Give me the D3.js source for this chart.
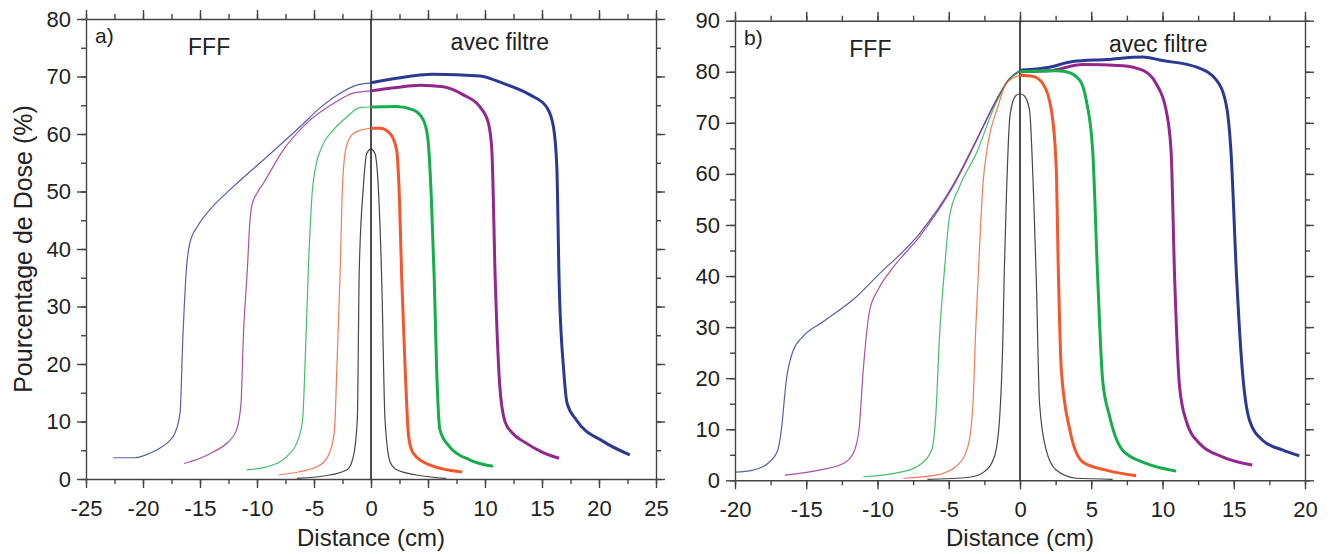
<!DOCTYPE html>
<html>
<head>
<meta charset="utf-8">
<script src="https://cdn.jsdelivr.net/npm/d3@7"></script>
<style>
  body { margin: 0; background: #fff; }
  svg text { font-family: "Liberation Sans", Arial, sans-serif; fill: #222; }
</style>
</head>
<body>
<svg width="1332" height="554"></svg>
<script>
// panel a) : profiles, x in cm, y in % dose
var aBlue = [[-22.6,3.7],[-20.7,3.7],[-19.5,4.4],[-18.5,5.4],[-17.7,6.6],[-17.2,8.0],[-16.75,11.5],[-16.5,24.7],[-16.2,36.3],[-15.9,41],[-15.2,44],[-14.4,46.2],[-12.1,50.8],[-9.15,56],[-6.2,61.3],[-4.5,64.5],[-2.7,67.1],[-1.25,68.5],[0,68.9],[2.25,69.7],[5.45,70.4],[9.56,70.1],[11.6,68.8],[13.95,66.8],[15.4,64.7],[16.0,61.3],[16.3,54.3],[16.5,34.6],[16.9,19],[17.2,13.2],[18.0,10.3],[20.4,6.5],[22.7,4.2]];
var aPurple = [[-16.4,2.7],[-15,3.6],[-13.8,4.75],[-12.6,6.3],[-11.8,8.5],[-11.4,13.2],[-11.2,24.7],[-10.85,36.3],[-10.65,44],[-10.45,47.6],[-10.0,49.7],[-9.45,51.4],[-7.7,57.2],[-5.64,61.9],[-3.3,65.3],[-1.55,67.1],[0,67.5],[2.25,68.1],[4.3,68.5],[6.35,68.2],[8.1,66.8],[9.56,64.7],[10.3,61.9],[10.6,57.2],[10.9,34.6],[11.3,16.1],[11.75,10.0],[12.4,8.0],[13.4,6.5],[15.1,4.6],[16.5,3.6]];
var aGreen = [[-10.9,1.6],[-9.15,2.1],[-7.4,3.9],[-6.4,6.8],[-6.0,10.3],[-5.8,19],[-5.5,36.3],[-5.15,50],[-4.9,53.8],[-4.3,57.8],[-3.3,60.7],[-2.1,63],[-1.0,64.6],[0,64.7],[2.25,64.8],[3.7,64.2],[4.6,62.4],[5.0,59],[5.3,48.5],[5.55,34.6],[5.76,19],[6.05,8.5],[6.9,5.6],[8.7,3.3],[10.7,2.2]];
var aOrange = [[-8.1,0.7],[-6.2,1.3],[-4.5,2.4],[-3.6,4.75],[-3.2,8.5],[-3.0,19],[-2.7,36.3],[-2.5,51],[-2.2,57.5],[-1.7,59.8],[-1.0,60.6],[0,61],[0.8,61],[1.67,60.1],[2.25,57.2],[2.5,48.5],[2.7,34.6],[3.0,19],[3.3,7.4],[3.7,4.5],[5.2,2.4],[8.0,1.2]];
var aBlack = [[-6.5,0.1],[-3.6,0.7],[-2.1,1.6],[-1.55,3.9],[-1.2,10.3],[-1.03,36.3],[-0.67,50.8],[-0.38,56.6],[0,57.5],[0.35,56.6],[0.64,50.8],[0.94,34.6],[1.23,10.3],[1.67,3.0],[2.25,1.6],[4.0,0.7],[6.6,0.1]];

// panel b)
var bBlue = [[-20,1.6],[-18.75,2.0],[-17.7,3.3],[-17.0,5.9],[-16.75,9.8],[-16.4,19.6],[-15.95,25.2],[-15.25,28.1],[-13.85,31.0],[-11.5,35.9],[-10.1,39.8],[-7.05,48.3],[-4.7,57.8],[-3.07,66.6],[-1.67,74.4],[-0.74,78.7],[0,80.3],[2.07,80.9],[3.7,82.0],[6.05,82.4],[8.6,82.9],[10.0,82.2],[12.4,80.9],[13.8,78.3],[14.5,73.1],[14.8,64.6],[15.2,39.8],[15.6,21.6],[16.1,11.8],[17.0,7.9],[18.45,5.9],[19.6,4.8]];
var bPurple = [[-16.5,1.0],[-14.1,2.0],[-12.4,3.3],[-11.7,5.3],[-11.3,9.8],[-11.0,21.6],[-10.55,33.3],[-9.98,37.2],[-9.04,41.2],[-7.05,47.7],[-4.7,57.5],[-3.1,66.2],[-1.7,74.2],[-0.74,78.6],[0,80],[2.07,80.2],[4.4,81.4],[7.2,81.2],[8.6,80.3],[9.55,77.7],[10.25,72.5],[10.6,64.6],[10.85,39.8],[11.2,18.3],[11.65,11.8],[12.6,7.2],[14.2,4.6],[16.3,3.0]];
var bGreen = [[-11.0,0.7],[-8.2,1.7],[-7.05,3.0],[-6.2,5.9],[-5.9,13.1],[-5.65,28.1],[-5.3,41.2],[-4.95,51.6],[-4.25,57.5],[-3.07,64.0],[-1.7,73.8],[-0.74,78.5],[0,80],[2.5,80.2],[3.25,80.0],[4.2,78.3],[4.65,74.4],[5.1,64.6],[5.45,39.8],[5.8,19.6],[6.3,12.4],[7.2,5.9],[8.85,3.3],[10.96,1.8]];
var bOrange = [[-8.2,0.4],[-5.9,1.0],[-4.5,2.7],[-3.66,6.6],[-3.3,15.1],[-3.1,30],[-2.85,45],[-2.6,58],[-2.3,65],[-1.56,73.1],[-0.97,77.7],[0,79.3],[0.9,79.1],[1.6,77.7],[2.2,72.5],[2.54,61.4],[2.7,39.8],[2.9,21.6],[3.5,9.8],[4.4,3.6],[6.05,2.0],[8.15,0.9]];
var bBlack = [[-6.5,0.2],[-3.55,0.6],[-2.5,1.7],[-1.8,4.6],[-1.44,11.8],[-1.2,28.1],[-1.1,41.2],[-0.95,56],[-0.7,71.5],[-0.3,75.3],[0,75.7],[0.3,75.3],[0.67,72.5],[0.95,56],[1.14,39.8],[1.37,15.1],[1.84,5.9],[2.54,2.0],[3.95,0.4],[6.5,0.2]];

var seriesColors = ["#2b3990", "#93278f", "#14ae4a", "#f7552a", "#333333"];

var svg = d3.select("svg");

function drawPanel(p) {
  var x = d3.scaleLinear().domain(p.xDomain).range([p.left, p.right]);
  var y = d3.scaleLinear().domain(p.yDomain).range([p.bottom, p.top]);
  var g = svg.append("g");

  var minorX = d3.range(p.xDomain[0], p.xDomain[1] + 0.01, p.xStep / 2);
  var minorY = d3.range(p.yDomain[0], p.yDomain[1] + 0.01, p.yStep / 2);
  var majorX = d3.range(p.xDomain[0], p.xDomain[1] + 0.01, p.xStep);
  var majorY = d3.range(p.yDomain[0], p.yDomain[1] + 0.01, p.yStep);

  function axisStyle(sel) {
    sel.selectAll("path, line").attr("stroke", "#444").attr("stroke-width", 1.4);
    sel.selectAll("text").attr("fill", "#222").attr("font-size", 22)
      .attr("font-family", "Liberation Sans, Arial, sans-serif");
  }

  // [axis, transform, minor ticks, major ticks, labelled?, padding]
  [[d3.axisBottom(x), "translate(0," + p.bottom + ")", minorX, majorX, true, 12],
   [d3.axisTop(x), "translate(0," + p.top + ")", minorX, majorX, false, 8],
   [d3.axisLeft(y), "translate(" + p.left + ",0)", minorY, majorY, true, 6],
   [d3.axisRight(y), "translate(" + p.right + ",0)", minorY, majorY, false, 8]
  ].forEach(function(a) {
    g.append("g").attr("transform", a[1])
      .call(a[0].tickValues(a[2]).tickSize(5).tickSizeOuter(0).tickFormat(""))
      .call(axisStyle);
    var ag = g.append("g").attr("transform", a[1])
      .call(a[0].tickValues(a[3]).tickSize(9).tickSizeOuter(0).tickPadding(a[5])
        .tickFormat(a[4] ? function(d) { return String(d); } : ""))
      .call(axisStyle);
    ag.select(".domain").remove();
  });

  // zero line
  g.append("line")
    .attr("x1", x(0)).attr("x2", x(0))
    .attr("y1", p.top).attr("y2", p.bottom)
    .attr("stroke", "#222").attr("stroke-width", 1.6);

  var line = d3.line()
    .x(function(d) { return x(d[0]); })
    .y(function(d) { return y(d[1]); })
    .curve(d3.curveMonotoneX);

  p.series.forEach(function(s, i) {
    var c = seriesColors[i];
    var isBlack = i === 4;
    g.append("path")
      .datum(s.filter(function(d) { return d[0] <= 0; }))
      .attr("d", line).attr("fill", "none")
      .attr("stroke", c).attr("stroke-opacity", isBlack ? 0.9 : 0.8)
      .attr("stroke-width", 1.2);
    g.append("path")
      .datum(s.filter(function(d) { return d[0] >= 0; }))
      .attr("d", line).attr("fill", "none")
      .attr("stroke", c)
      .attr("stroke-opacity", isBlack ? 0.9 : 1)
      .attr("stroke-width", isBlack ? 1.2 : 3);
  });

  g.append("text").attr("x", p.left + 9).attr("y", p.top + 24)
    .attr("font-size", 21).text(p.tag);
  g.append("text").attr("x", x(p.fffX)).attr("y", p.top + 36)
    .attr("font-size", 23).attr("text-anchor", "middle").text("FFF");
  g.append("text").attr("x", x(p.filtreX)).attr("y", p.top + 31)
    .attr("font-size", 23).attr("text-anchor", "middle").text("avec filtre");

  g.append("text").attr("x", x(0)).attr("y", 546)
    .attr("font-size", 24).attr("text-anchor", "middle").text("Distance (cm)");
}

drawPanel({
  left: 86, right: 656, top: 19, bottom: 479,
  xDomain: [-25, 25], yDomain: [0, 80], xStep: 5, yStep: 10,
  series: [aBlue, aPurple, aGreen, aOrange, aBlack],
  tag: "a)", fffX: -14.2, filtreX: 11.3
});

drawPanel({
  left: 735, right: 1305, top: 20.7, bottom: 480.3,
  xDomain: [-20, 20], yDomain: [0, 90], xStep: 5, yStep: 10,
  series: [bBlue, bPurple, bGreen, bOrange, bBlack],
  tag: "b)", fffX: -10.5, filtreX: 9.7
});

svg.append("text")
  .attr("transform", "translate(32,249) rotate(-90)")
  .attr("font-size", 25).attr("text-anchor", "middle")
  .text("Pourcentage de Dose (%)");
</script>
</body>
</html>
